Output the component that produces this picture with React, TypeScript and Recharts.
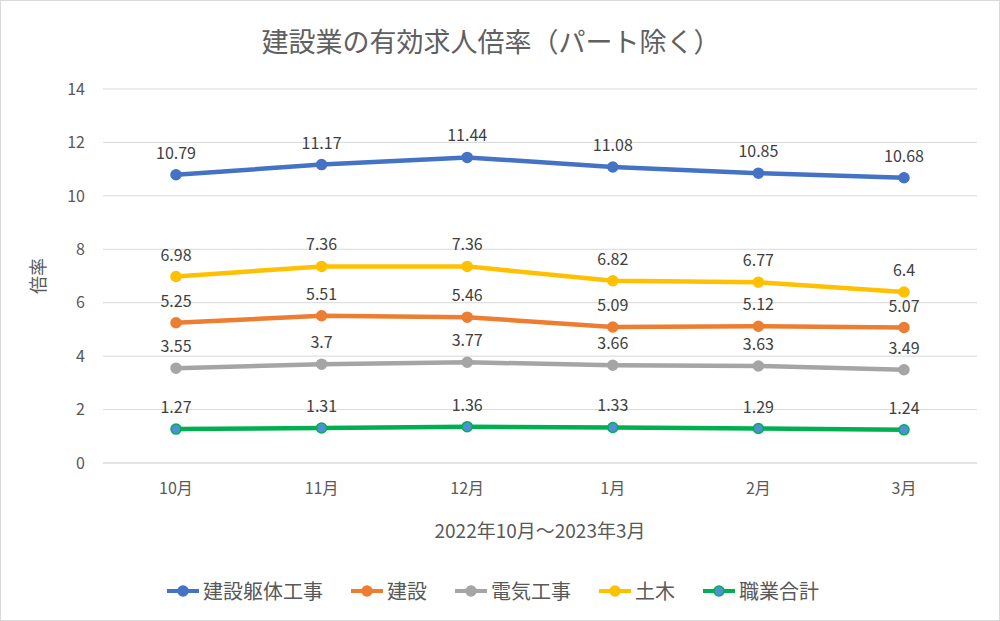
import React from 'react';
import { LineChart, Line, XAxis, YAxis, CartesianGrid, Legend, LabelList, Label } from 'recharts';

const months = ['10月', '11月', '12月', '1月', '2月', '3月'];
const kutai = [10.79, 11.17, 11.44, 11.08, 10.85, 10.68];
const kensetsu = [5.25, 5.51, 5.46, 5.09, 5.12, 5.07];
const denki = [3.55, 3.7, 3.77, 3.66, 3.63, 3.49];
const doboku = [6.98, 7.36, 7.36, 6.82, 6.77, 6.4];
const goukei = [1.27, 1.31, 1.36, 1.33, 1.29, 1.24];
const yTicks = [0, 2, 4, 6, 8, 10, 12, 14];

const series = [
    { key: 'kutai', name: '建設躯体工事', values: kutai, color: '#4472c4', dot: '#4472c4' },
    { key: 'kensetsu', name: '建設', values: kensetsu, color: '#ed7d31', dot: '#ed7d31' },
    { key: 'denki', name: '電気工事', values: denki, color: '#a5a5a5', dot: '#a5a5a5' },
    { key: 'doboku', name: '土木', values: doboku, color: '#ffc000', dot: '#ffc000' },
    { key: 'goukei', name: '職業合計', values: goukei, color: '#00b050', dot: '#4f8fd6' },
];

const data = months.map((m, i) => {
    const row: Record<string, string | number> = { month: m };
    series.forEach(s => { row[s.key] = s.values[i]; });
    return row;
});

const FONT = '"Noto Sans CJK JP", "Noto Sans", sans-serif';

const LegendContent = () => (
    <div style={{ display: 'flex', justifyContent: 'center', gap: 26, fontFamily: FONT, fontSize: 20, color: '#595959', paddingLeft: 6 }}>
        {series.map(s => (
            <div key={s.key} style={{ display: 'flex', alignItems: 'center' }}>
                <svg width={36} height={14} style={{ marginRight: 2 }}>
                    <line x1={2} y1={7} x2={34} y2={7} stroke={s.color} strokeWidth={4} />
                    <circle cx={18} cy={7} r={5} fill={s.dot} stroke={s.color} strokeWidth={1.5} />
                </svg>
                <span>{s.name}</span>
            </div>
        ))}
    </div>
);

export default function App() {
    return (
        <div style={{ position: 'absolute', left: 0, top: 0, width: 1000, height: 621, background: '#fff', border: '1px solid #d9d9d9', boxSizing: 'border-box', fontFamily: FONT }}>
            <div style={{ position: 'absolute', left: 0, top: 20, width: 980, textAlign: 'center', fontSize: 27, color: '#606060' }}>
                建設業の有効求人倍率（パート除く）
            </div>
            <LineChart width={998} height={619} data={data} margin={{ top: 88, right: 22, left: 0, bottom: 14 }}>
                <CartesianGrid vertical={false} stroke="#d9d9d9" strokeWidth={1} />
                <XAxis
                    dataKey="month"
                    height={113}
                    padding={{ left: 73, right: 73 }}
                    axisLine={{ stroke: '#d9d9d9' }}
                    tickLine={false}
                    tickSize={0}
                    tickMargin={20}
                    fontSize={16}
                    tick={{ fill: '#595959', fontSize: 16, fontFamily: FONT }}
                    interval={0}
                >
                    <Label value="2022年10月～2023年3月" position="insideBottom" offset={38} style={{ fill: '#595959', fontSize: 19, fontFamily: FONT }} />
                </XAxis>
                <YAxis
                    domain={[0, 14]}
                    ticks={yTicks}
                    width={102}
                    axisLine={false}
                    tickLine={false}
                    tickSize={0}
                    tickMargin={18}
                    fontSize={16}
                    tick={{ fill: '#595959', fontSize: 16, fontFamily: FONT }}
                >
                    <Label value="倍率" angle={-90} position="insideLeft" offset={38} style={{ fill: '#595959', fontSize: 18, fontFamily: FONT, textAnchor: 'middle' }} />
                </YAxis>
                <Legend verticalAlign="bottom" height={30} content={<LegendContent />} />
                {series.map(s => (
                    <Line
                        key={s.key}
                        dataKey={s.key}
                        name={s.name}
                        type="linear"
                        stroke={s.color}
                        strokeWidth={4.5}
                        dot={{ r: 5, fill: s.dot, stroke: s.color, strokeWidth: 1.5 }}
                        activeDot={false}
                        isAnimationActive={false}
                    >
                        <LabelList dataKey={s.key} position="top" offset={16} style={{ fill: '#404040', fontSize: 16, fontFamily: FONT }} />
                    </Line>
                ))}
            </LineChart>
        </div>
    );
}
